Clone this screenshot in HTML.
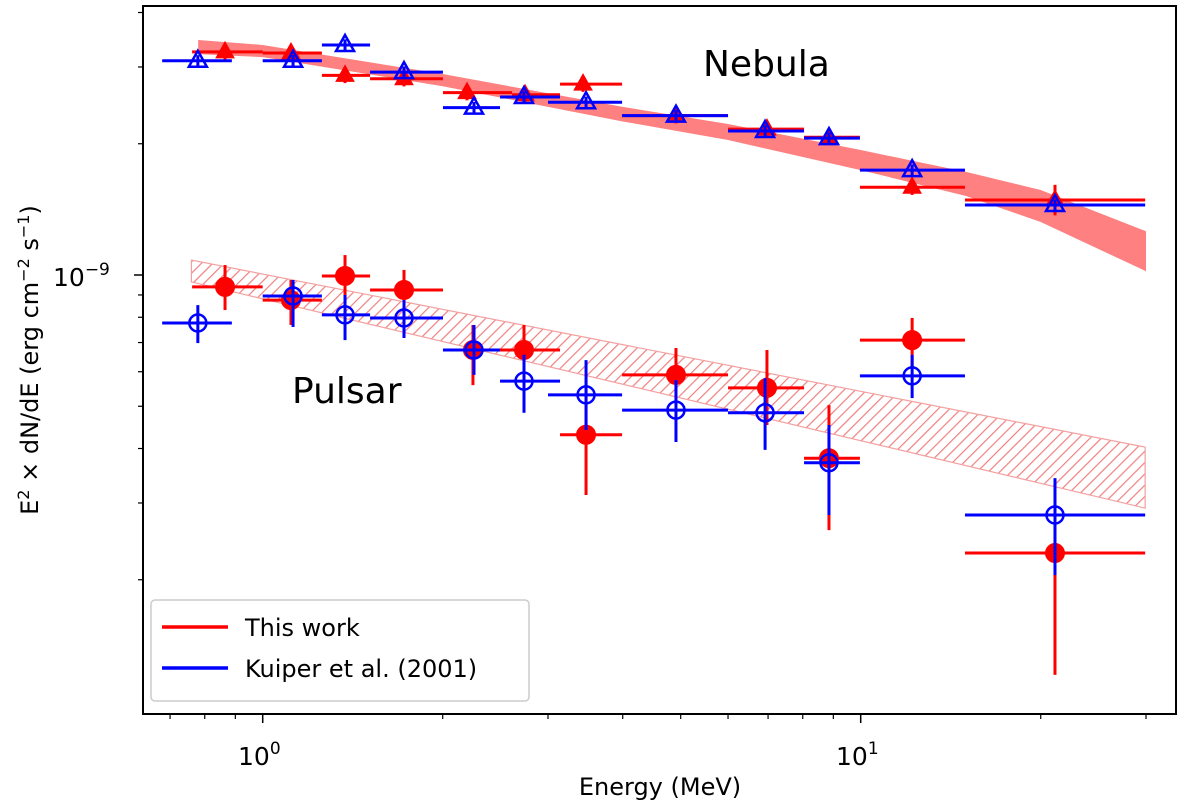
<!DOCTYPE html>
<html><head><meta charset="utf-8"><style>
body{margin:0;background:#fff}
svg{font-family:"DejaVu Sans","Liberation Sans",sans-serif}
</style></head><body>
<svg id="c" width="1200" height="803">
<defs><pattern id="hatch" patternUnits="userSpaceOnUse" width="8" height="8" patternTransform="rotate(45)"><line x1="0" y1="0" x2="0" y2="8" stroke="#f08080" stroke-width="2.4"/></pattern></defs>
</svg>
<script>
const nebEnergy=[0.865,1.115,1.373,1.723,2.196,2.746,3.433,4.91,6.97,8.85,12.19,21.13];
const nebRedFlux=[3.25,3.23,2.87,2.82,2.62,2.59,2.74,2.32,2.16,2.07,1.59,1.486];
const nebRedLo=[0.762,1.0,1.256,1.512,2.002,2.612,3.142,3.99,6.0,8.04,9.97,14.94];
const nebRedHi=[1.0,1.256,1.512,2.002,2.612,3.142,3.99,6.0,8.04,9.97,14.94,29.9];
const nebBlueE=[0.779,1.124,1.373,1.723,2.256,2.735,3.473,4.91,6.92,8.85,12.19,21.13];
const nebBlueFlux=[3.10,3.10,3.37,2.92,2.42,2.56,2.49,2.32,2.14,2.06,1.74,1.447];
const nebBlueLo=[0.679,1.0,1.256,1.512,2.002,2.494,3.0,3.99,6.0,8.04,9.97,14.94];
const nebBlueHi=[0.888,1.256,1.512,2.002,2.494,3.142,3.99,6.0,8.04,9.97,14.94,29.9];
const psrRedE=[0.865,1.115,1.373,1.723,2.247,2.735,3.473,4.91,6.97,8.85,12.19,21.13];
const psrRedFlux=[0.939,0.876,0.995,0.924,0.673,0.673,0.430,0.590,0.551,0.380,0.709,0.2303];
const psrRedErrUp=[1.054,0.974,1.111,1.027,0.768,0.768,0.574,0.680,0.673,0.503,0.797,0.297];
const psrRedErrDn=[0.831,0.768,0.876,0.823,0.559,0.574,0.313,0.503,0.453,0.260,0.612,0.121];
const psrBlueE=[0.779,1.124,1.373,1.723,2.256,2.735,3.473,4.91,6.92,8.85,12.19,21.13];
const psrBlueFlux=[0.776,0.895,0.810,0.797,0.673,0.571,0.531,0.490,0.483,0.371,0.587,0.2815];
const psrBlueErrUp=[0.853,0.974,0.900,0.876,0.768,0.656,0.638,0.574,0.580,0.453,0.656,0.342];
const psrBlueErrDn=[0.698,0.760,0.709,0.717,0.590,0.483,0.441,0.414,0.397,0.2815,0.522,0.205];
const nebBandE=[0.78,1,2,4,6,10,15,20,30];
const nebBandUp=[3.46,3.37,2.89,2.43,2.22,1.935,1.724,1.567,1.26];
const nebBandDn=[3.21,3.16,2.71,2.25,2.04,1.74,1.518,1.323,1.02];
const psrBandE=[0.76,29.9];
const psrBandUp=[1.082,0.403];
const psrBandDn=[0.964,0.292];

const NS="http://www.w3.org/2000/svg";
const svg=document.getElementById('c');
const X=e=>262.7+598*Math.log10(e);
const Y=v=>275-436*Math.log10(v);
function mk(t,a,p){const el=document.createElementNS(NS,t);for(const k in a)el.setAttribute(k,a[k]);(p||svg).appendChild(el);return el;}

let d='M'+nebBandE.map((e,i)=>X(e)+','+Y(nebBandUp[i])).join('L')+'L'+nebBandE.map((e,i)=>X(e)+','+Y(nebBandDn[i])).reverse().join('L')+'Z';
let b=mk('path',{d:d,fill:'#ff8080',stroke:'none'});


d='M'+psrBandE.map((e,i)=>X(e)+','+Y(psrBandUp[i])).join('L')+'L'+psrBandE.map((e,i)=>X(e)+','+Y(psrBandDn[i])).reverse().join('L')+'Z';
b=mk('path',{d:d,fill:'url(#hatch)',stroke:'#f4a0a0','stroke-width':1.2});



function series(E,F,xl,xh,yu,yd,col,marker,filled,name){
  const g=mk('g',{});
  
  
  E.forEach((e,i)=>{
    const x=X(e),y=Y(F[i]);
    mk('line',{x1:X(xl[i]),x2:X(xh[i]),y1:y,y2:y,stroke:col,'stroke-width':3},g);
    mk('line',{x1:x,x2:x,y1:Y(yu[i]),y2:Y(yd[i]),stroke:col,'stroke-width':3},g);
    let m;
    if(marker==='c')m=mk('circle',{cx:x,cy:y,r:filled?9.5:8.5},g);
    else m=mk('path',{d:`M${x},${y-10}L${x+9},${y+6}L${x-9},${y+6}Z`},g);
    m.setAttribute('fill',filled?col:'none');m.setAttribute('stroke',col);m.setAttribute('stroke-width',filled?1:2.5);
    
    
  });
}
const nebRedUp=nebRedFlux.map((v,i)=>i==11?1.61:v*1.04), nebRedDn=nebRedFlux.map((v,i)=>i==11?1.37:v*0.96);
const nebBlueUp=nebBlueFlux.map(v=>v*1.03), nebBlueDn=nebBlueFlux.map(v=>v*0.97);
series(nebEnergy,nebRedFlux,nebRedLo,nebRedHi,nebRedUp,nebRedDn,'#ff0000','t',true,'nebula-this-work');
series(nebBlueE,nebBlueFlux,nebBlueLo,nebBlueHi,nebBlueUp,nebBlueDn,'#0000ff','t',false,'nebula-kuiper');
series(psrRedE,psrRedFlux,nebRedLo,nebRedHi,psrRedErrUp,psrRedErrDn,'#ff0000','c',true,'pulsar-this-work');
series(psrBlueE,psrBlueFlux,nebBlueLo,nebBlueHi,psrBlueErrUp,psrBlueErrDn,'#0000ff','c',false,'pulsar-kuiper');

const f=mk('rect',{x:143,y:6,width:1033,height:708,fill:'none',stroke:'#000','stroke-width':2});


const xMajor=[1,10], xMinor=[0.7,0.8,0.9,2,3,4,5,6,7,8,9,20,30];
xMajor.forEach(e=>mk('line',{x1:X(e),x2:X(e),y1:714,y2:723,stroke:'#000','stroke-width':1.5}));
xMinor.forEach(e=>mk('line',{x1:X(e),x2:X(e),y1:714,y2:719,stroke:'#000','stroke-width':1.2}));
const yMinor=[0.2,0.3,0.4,0.5,0.6,0.7,0.8,0.9,2,3,4];
mk('line',{x1:134,x2:143,y1:Y(1),y2:Y(1),stroke:'#000','stroke-width':1.5});
yMinor.forEach(v=>mk('line',{x1:138,x2:143,y1:Y(v),y2:Y(v),stroke:'#000','stroke-width':1.2}));
</script>
<svg width="1200" height="803" style="position:absolute;left:0;top:0">
<g font-family="DejaVu Sans,Liberation Sans,sans-serif" fill="#000">
<text x="53" y="286" font-size="25">10<tspan dy="-11" font-size="17">−9</tspan></text>
<text x="238" y="765" font-size="25">10<tspan dy="-11" font-size="17">0</tspan></text>
<text x="836" y="765" font-size="25">10<tspan dy="-11" font-size="17">1</tspan></text>
<text x="660" y="795" font-size="24" text-anchor="middle">Energy (MeV)</text>
<text transform="translate(38,360) rotate(-90)" font-size="24" text-anchor="middle">E<tspan dy="-9" font-size="16">2</tspan><tspan dy="9"> × dN/dE (erg cm</tspan><tspan dy="-9" font-size="16">−2</tspan><tspan dy="9"> s</tspan><tspan dy="-9" font-size="16">−1</tspan><tspan dy="9">)</tspan></text>
<text x="703" y="76" font-size="36">Nebula</text>
<text x="292" y="403" font-size="36">Pulsar</text>
<g>
<rect x="151" y="600" width="378" height="101" rx="4" fill="#fff" fill-opacity="0.85" stroke="#ccc" stroke-width="1.5"/>
<line x1="162" x2="228" y1="627" y2="627" stroke="#ff0000" stroke-width="3.5"/>
<text x="245" y="636" font-size="24">This work</text>
<line x1="162" x2="228" y1="668" y2="668" stroke="#0000ff" stroke-width="3.5"/>
<text x="245" y="677" font-size="24">Kuiper et al. (2001)</text>
</g>
</g>
</svg>
</body></html>
